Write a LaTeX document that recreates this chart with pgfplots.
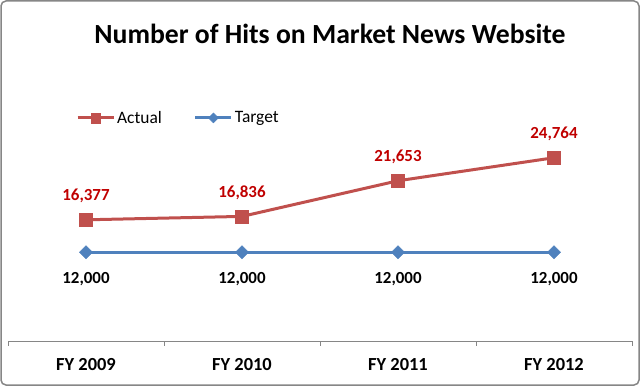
\documentclass[border=0pt]{standalone}
\usepackage{pgfplots}
\pgfplotsset{compat=1.18}
\usepackage{pgfplotstable}
\usepackage{fontspec}
\setmainfont{Carlito}
\definecolor{actred}{RGB}{192,80,77}
\definecolor{tgtblue}{RGB}{79,129,189}
\definecolor{lblred}{RGB}{192,0,0}
\definecolor{axgray}{RGB}{134,134,134}
\pgfplotstableread{
x y label
0 16377 16,377
1 16836 16,836
2 21653 21,653
3 24764 24,764
}\actual
\pgfplotstableread{
x y label
0 12000 12,000
1 12000 12,000
2 12000 12,000
3 12000 12,000
}\target
\begin{document}
\begin{tikzpicture}
\path[use as bounding box] (0bp,0bp) rectangle (640bp,386bp);
\draw[axgray, line width=1.5bp, rounded corners=5bp] (1bp,1bp) rectangle (639bp,385bp);
\node[font=\bfseries\fontsize{27.8}{32}\selectfont] at (330bp,352bp) {Number of Hits on Market News Website};
\begin{axis}[
  at={(8bp,45bp)}, anchor=south west,
  scale only axis, width=624bp, height=222bp,
  xmin=-0.5, xmax=3.5, ymin=0, ymax=30000,
  axis y line=none, axis x line*=bottom,
  x axis line style={-, axgray, line width=0.8bp},
  xtick={-0.5,0.5,1.5,2.5,3.5}, xticklabels={},
  major tick length=5bp, tick align=outside,
  x tick style={axgray, line width=0.8bp},
  extra x ticks={0,1,2,3},
  extra x tick labels={FY 2009,FY 2010,FY 2011,FY 2012},
  extra x tick style={major tick length=0pt, tick label style={font=\bfseries\fontsize{18.5}{20}\selectfont, yshift=-14bp}},
  ytick=\empty,
  clip=false,
  legend style={at={(0.104,1.005)}, anchor=west, draw=none, fill=none,
    font=\fontsize{17.5}{19}\selectfont, legend columns=2,
    /tikz/every even column/.append style={column sep=30bp}},
  legend image code/.code={\draw[mark repeat=2,mark phase=2,#1, every mark/.append style={scale=0.75}] plot coordinates {(0bp,0bp) (18bp,0bp) (36bp,0bp)};},
  point meta=explicit symbolic,
  nodes near coords,
]
\addplot[actred, line width=3bp, mark=square*, mark size=6.5bp, mark options={solid, line width=0.4bp},
  every node near coord/.style={anchor=center, inner sep=0pt, yshift=23.5bp, text=lblred, font=\bfseries\fontsize{17}{20}\selectfont}]
  table[x=x, y=y, meta=label] {\actual};
\addlegendentry{Actual}
\addplot[tgtblue, line width=3bp, mark=square*, mark size=4.7bp, mark options={solid, rotate=45, line width=0.4bp},
  every node near coord/.style={anchor=center, inner sep=0pt, yshift=-26.5bp, text=black, font=\bfseries\fontsize{17}{20}\selectfont}]
  table[x=x, y=y, meta=label] {\target};
\addlegendentry{Target}
\end{axis}
\end{tikzpicture}
\end{document}
